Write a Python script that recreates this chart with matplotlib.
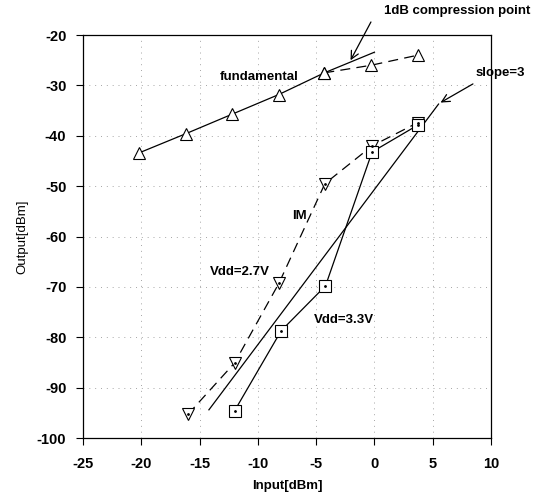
import matplotlib
matplotlib.use("Agg")
import matplotlib.pyplot as plt

# fundamental output (triangles)
fund_x = [-20.2, -16.2, -12.2, -8.2, -4.3, -0.3, 3.7]
fund_y = [-43.4, -39.6, -35.7, -31.8, -27.5, -26.0, -24.0]
# linear extrapolation of the fundamental
fund_ext_x = [-4.3, 0.0]
fund_ext_y = [-27.5, -23.4]

# IM products, Vdd=2.7V (triangles down, dashed)
im27_x = [-16.0, -12.0, -8.2, -4.25, -0.2, 3.7]
im27_y = [-95.3, -85.1, -69.3, -49.5, -42.0, -37.4]

# IM products, Vdd=3.3V (squares, solid)
im33_x = [-12.0, -8.0, -4.2, -0.2, 3.7]
im33_y = [-94.6, -78.7, -69.8, -43.2, -37.9]

# slope=3 reference line
slope_x = [-14.2, 5.5]
slope_y = [-94.4, -33.7]

xticks = [-25, -20, -15, -10, -5, 0, 5, 10]
yticks = [-100, -90, -80, -70, -60, -50, -40, -30, -20]

plt.rcParams['font.family'] = ['Liberation Sans', 'DejaVu Sans']
plt.rcParams['axes.unicode_minus'] = False

fig = plt.figure(figsize=(5.48, 5.01), dpi=100)
ax = fig.add_axes([0.1515, 0.1257, 0.7445, 0.8043])

lw = 0.9
mk = dict(markerfacecolor='white', markeredgecolor='black', markeredgewidth=0.8, markersize=8)
dash = (0, (8, 5))

# fundamental: solid up to -4, dashed afterwards
ax.plot(fund_x[:5], fund_y[:5], color='black', lw=lw, marker='^', **mk, zorder=3)
ax.plot(fund_x[4:], fund_y[4:], color='black', lw=lw, ls=dash, marker='^', **mk, zorder=3)
ax.plot(fund_ext_x, fund_ext_y, color='black', lw=lw, zorder=2)

ax.plot(im27_x, im27_y, color='black', lw=lw, ls=dash, marker='v', **mk, zorder=3)
ax.plot(im27_x, im27_y, ls='none', marker='.', color='black', markersize=2, zorder=4)

ax.plot(im33_x, im33_y, color='black', lw=lw, marker='s', **mk, zorder=3)
ax.plot(im33_x, im33_y, ls='none', marker='.', color='black', markersize=2, zorder=4)

ax.plot(slope_x, slope_y, color='black', lw=lw, zorder=2)

ax.set_xlim(-25, 10)
ax.set_ylim(-100, -20)
ax.set_xticks(xticks)
ax.set_yticks(yticks)
ax.tick_params(direction='out', length=5, width=0.8, labelsize=10.5)
ax.tick_params(axis='y', pad=7)
ax.tick_params(axis='x', pad=9)
for lab in ax.get_xticklabels() + ax.get_yticklabels():
    lab.set_fontweight('bold')
ax.grid(True, color='0.65', ls=(0, (1, 5)), lw=0.7)
for s in ax.spines.values():
    s.set_linewidth(0.9)

ax.set_xlabel('Input[dBm]', fontsize=9.5, fontweight='bold', labelpad=6)
ax.set_ylabel('Output[dBm]', fontsize=9.5, labelpad=6)

ax.text(-13.3, -28.3, 'fundamental', fontsize=9.5, fontweight='bold', va='center')
ax.text(-7.1, -55.9, 'IM', fontsize=9.5, fontweight='bold', va='center')
ax.text(-11.5, -67.0, 'Vdd=2.7V', fontsize=9.5, fontweight='bold', ha='center', va='center')
ax.text(-2.6, -76.6, 'Vdd=3.3V', fontsize=9.5, fontweight='bold', ha='center', va='center')

arrow = dict(arrowstyle='->', color='black', lw=0.9, mutation_scale=14, shrinkA=0, shrinkB=0)
ax.text(0.8, -15.2, '1dB compression point', fontsize=9.5, fontweight='bold',
        ha='left', va='center', clip_on=False)
ax.annotate('', xy=(-2.05, -25.0), xytext=(-0.3, -17.4),
            arrowprops=arrow, annotation_clip=False)
ax.text(8.67, -27.5, 'slope=3', fontsize=9.5, fontweight='bold', ha='left', va='center',
        clip_on=False)
ax.annotate('', xy=(5.67, -33.4), xytext=(8.45, -29.7),
            arrowprops=arrow, annotation_clip=False)

fig.savefig('out.png', dpi=100)
